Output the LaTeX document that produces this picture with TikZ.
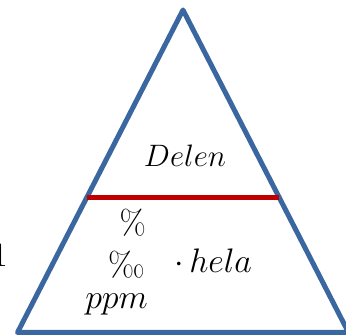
\RequirePackage{fix-cm}
\documentclass[tikz,border=0pt]{standalone}
\usepackage{textcomp}
\usetikzlibrary{calc}
\definecolor{triblue}{HTML}{3B67A0}
\definecolor{barred}{HTML}{C00000}
\begin{document}
\begin{tikzpicture}[x=1pt,y=-1pt,
  tri/.style={draw=triblue, line width=5pt, line join=round},
  bar/.style={draw=barred, line width=5pt},
  lbl/.style={inner sep=0pt, font=\fontsize{31}{37}\selectfont},
  lblb/.style={inner sep=0pt, font=\fontsize{34}{40}\selectfont}]
\useasboundingbox (0,0) rectangle (346,336);
\clip (0,0) rectangle (346,336);
\coordinate (A) at (183,10);
\coordinate (L) at (17.5,332.5);
\coordinate (R) at (348.5,332.5);
\draw[tri] (A) -- (L) -- (R) -- cycle;
\coordinate (bl) at ($(A)!0.58!(L)$);
\coordinate (br) at ($(A)!0.58!(R)$);
\draw[bar] (bl) -- (br);
\node[lbl, anchor=base] (delen) at (185,167) {$Delen$};
\node[lblb, anchor=base east] (pct) at (146,235) {\%};
\node[lblb, anchor=base east] (pm) at (145,277) {\textperthousand};
\node[lblb, anchor=base east] (ppm) at (148,309) {$ppm$};
\node[lblb, anchor=base west] (hela) at (174,273) {$\cdot\,hela$};
\node[lblb, anchor=base east] (one) at (8,267) {1};
\end{tikzpicture}
\end{document}
